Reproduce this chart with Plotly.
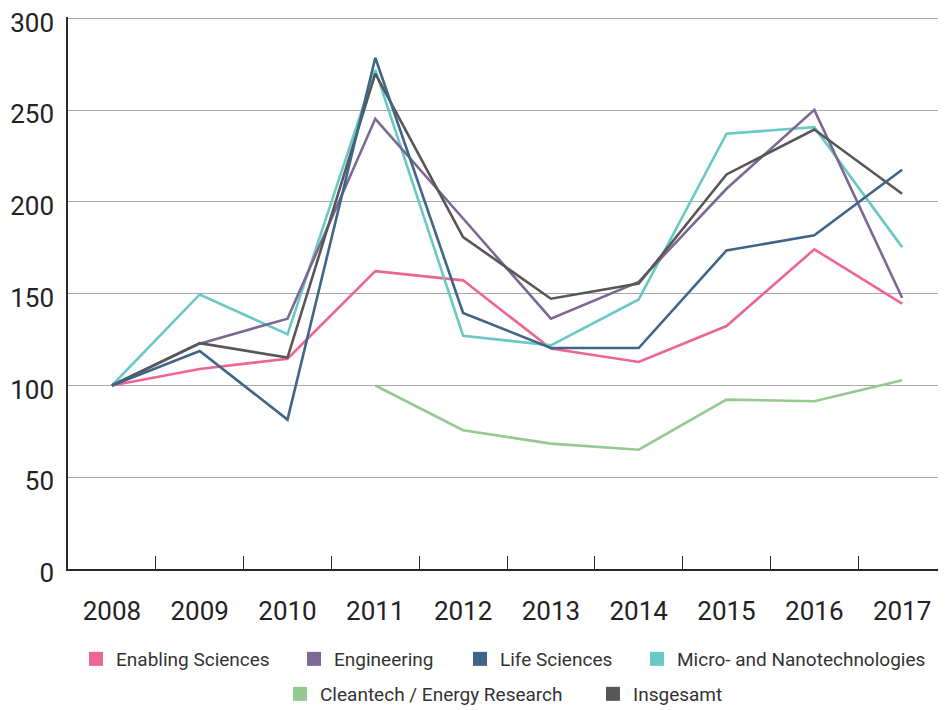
import plotly.graph_objects as go

years = ["2008", "2009", "2010", "2011", "2012", "2013", "2014", "2015", "2016", "2017"]

enabling_sciences = [100, 109, 114.6, 162.3, 157.3, 120.1, 112.8, 132.4, 174.2, 144.6]
engineering = [100, 122.8, 136.4, 245.3, 191, 136.4, 156.4, 207.2, 250.2, 147.8]
life_sciences = [100, 118.8, 81.4, 278.6, 139.5, 120.4, 120.4, 173.6, 181.8, 217.6]
micro_nano = [100, 149.6, 127.9, 272, 127.1, 121.9, 146.9, 237.2, 240.8, 175.4]
cleantech = [None, None, None, 100, 75.6, 68.3, 65, 92.3, 91.4, 102.8]
insgesamt = [100, 123.1, 115.2, 269.9, 180.9, 147.3, 155.5, 215, 239.5, 204.5]

y_ticks = [0, 50, 100, 150, 200, 250, 300]

series_names = ["Enabling Sciences", "Engineering", "Life Sciences",
                "Micro- and Nanotechnologies", "Cleantech / Energy Research", "Insgesamt"]
series_values = [enabling_sciences, engineering, life_sciences, micro_nano, cleantech, insgesamt]
colors = ["#ef6592", "#7d6793", "#3f6688", "#6ac8c5", "#96c98f", "#575757"]

# legend placement (layout only): swatch left edge in px, row centre in px
legend_swatch_left = [91, 309, 475, 652, 295, 608]
legend_row_y = [651, 651, 651, 651, 686, 686]

W, H = 946, 710
FONT = "Roboto"

fig = go.Figure()

draw_order = [4, 0, 3, 1, 5, 2]
for i in draw_order:
    fig.add_trace(go.Scatter(
        x=years, y=series_values[i], mode="lines", name=series_names[i],
        line=dict(color=colors[i], width=2.6), showlegend=False,
        connectgaps=False, hoverinfo="x+y+name"))

for i, name in enumerate(series_names):
    lg = "legend" if i == 0 else f"legend{i+1}"
    fig.add_trace(go.Scatter(
        x=[None], y=[None], mode="markers", name=name,
        marker=dict(symbol="square", size=14, color=colors[i]),
        showlegend=True, legend=lg))

legend_common = dict(
    orientation="h", xref="container", yref="container",
    xanchor="left", yanchor="middle", bgcolor="rgba(0,0,0,0)",
    borderwidth=0, font=dict(family=FONT, size=19, color="#333333"),
)
layout_legends = {}
for i in range(len(series_names)):
    key = "legend" if i == 0 else f"legend{i+1}"
    layout_legends[key] = dict(
        legend_common,
        x=(legend_swatch_left[i] - 23) / W,
        y=1 - legend_row_y[i] / H,
    )

fig.update_layout(
    width=W, height=H, autosize=False,
    margin=dict(l=60, r=8, t=8.5, b=149.3, pad=0, autoexpand=False),
    paper_bgcolor="white", plot_bgcolor="white",
    font=dict(family=FONT, color="#222222"),
    xaxis=dict(
        type="category", categoryorder="array", categoryarray=years,
        range=[-0.5, 9.5], showgrid=False, zeroline=False, automargin=False,
        showline=True, linecolor="#2a2a2a", linewidth=1.5,
        ticks="inside", tickson="boundaries", ticklen=13, tickwidth=1.3,
        tickcolor="#2a2a2a", ticklabelstandoff=18, ticklabeloverflow="allow",
        tickfont=dict(family=FONT, size=26, color="#222222"),
    ),
    yaxis=dict(
        range=[0, 300.8], tickmode="array", tickvals=y_ticks,
        ticktext=[str(v) for v in y_ticks],
        showgrid=True, automargin=False, ticklabeloverflow="allow",
        ticklabelshift=4,
        gridcolor="#a8a8a8", gridwidth=1.2, zeroline=False,
        showline=True, linecolor="#2a2a2a", linewidth=1.5,
        ticks="", ticklabelstandoff=7,
        tickfont=dict(family=FONT, size=26, color="#222222"),
    ),
    **layout_legends,
)

fig.write_html("out.html")
